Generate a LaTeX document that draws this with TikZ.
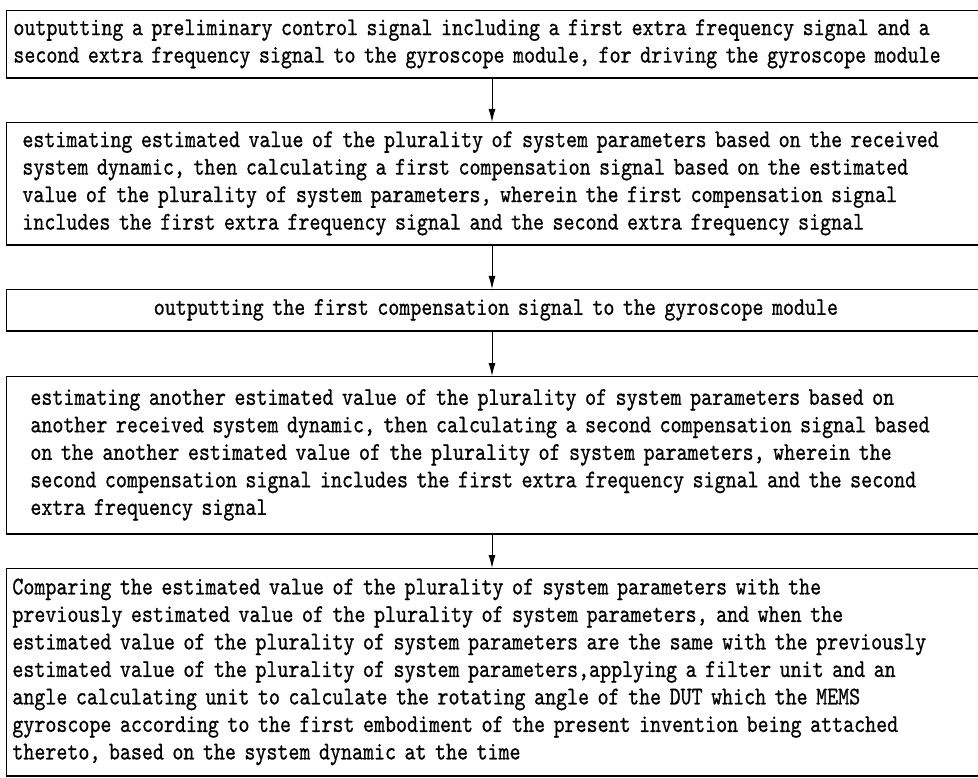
\documentclass[tikz,border=0pt]{standalone}
\usepackage{fontspec}
\newfontfamily\reffont[FakeStretch=0.822,FakeBold=0.7]{lmmono10-regular.otf}
\usetikzlibrary{arrows.meta}
\begin{document}
\begin{tikzpicture}[x=1pt,y=-1pt,
  stepbox/.style={draw, line width=0.8pt, anchor=north west, inner ysep=0pt,
    font=\reffont\fontsize{25.5}{27.5}\selectfont, align=left},
  thickedge/.style={line width=1.8pt},
  flow/.style={-{Latex[length=13pt,width=7pt]}, line width=0.9pt}]
\useasboundingbox (0,0) rectangle (978,778);
\coordinate (ax) at (492,0);

\node[stepbox, inner xsep=7pt, text width=965pt, minimum height=67pt] (b1) at (6,10)
 {outputting a preliminary control signal including a first extra frequency signal and a\\
  second extra frequency signal to the gyroscope module, for driving the gyroscope module};

\node[stepbox, inner xsep=16pt, text width=947pt, minimum height=122pt] (b2) at (6,122)
 {estimating estimated value of the plurality of system parameters based on the received\\
  system dynamic, then calculating a first compensation signal based on the estimated\\
  value of the plurality of system parameters, wherein the first compensation signal\\
  includes the first extra frequency signal and the second extra frequency signal};

\node[stepbox, inner xsep=7pt, text width=965pt, align=center, minimum height=41pt] (b3) at (6,289)
 {outputting the first compensation signal to the gyroscope module};

\node[stepbox, inner xsep=24pt, text width=931pt, minimum height=157pt] (b4) at (6,376)
 {estimating another estimated value of the plurality of system parameters based on\\
  another received system dynamic, then calculating a second compensation signal based\\
  on the another estimated value of the plurality of system parameters, wherein the\\
  second compensation signal includes the first extra frequency signal and the second\\
  extra frequency signal};

\node[stepbox, inner xsep=6pt, text width=967pt, minimum height=207pt] (b5) at (6,568)
 {Comparing the estimated value of the plurality of system parameters with the\\
  previously estimated value of the plurality of system parameters, and when the\\
  estimated value of the plurality of system parameters are the same with the previously\\
  estimated value of the plurality of system parameters,applying a filter unit and an\\
  angle calculating unit to calculate the rotating angle of the DUT which the MEMS\\
  gyroscope according to the first embodiment of the present invention being attached\\
  thereto, based on the system dynamic at the time};

\foreach \b in {b1,b2,b3,b4,b5}
  \draw[thickedge] (\b.south west) -- (\b.south east);

\draw[flow] (b1.south west -| ax) -- (b2.north west -| ax);
\draw[flow] (b2.south west -| ax) -- (b3.north west -| ax);
\draw[flow] (b3.south west -| ax) -- (b4.north west -| ax);
\draw[flow] (b4.south west -| ax) -- (b5.north west -| ax);
\end{tikzpicture}
\end{document}
